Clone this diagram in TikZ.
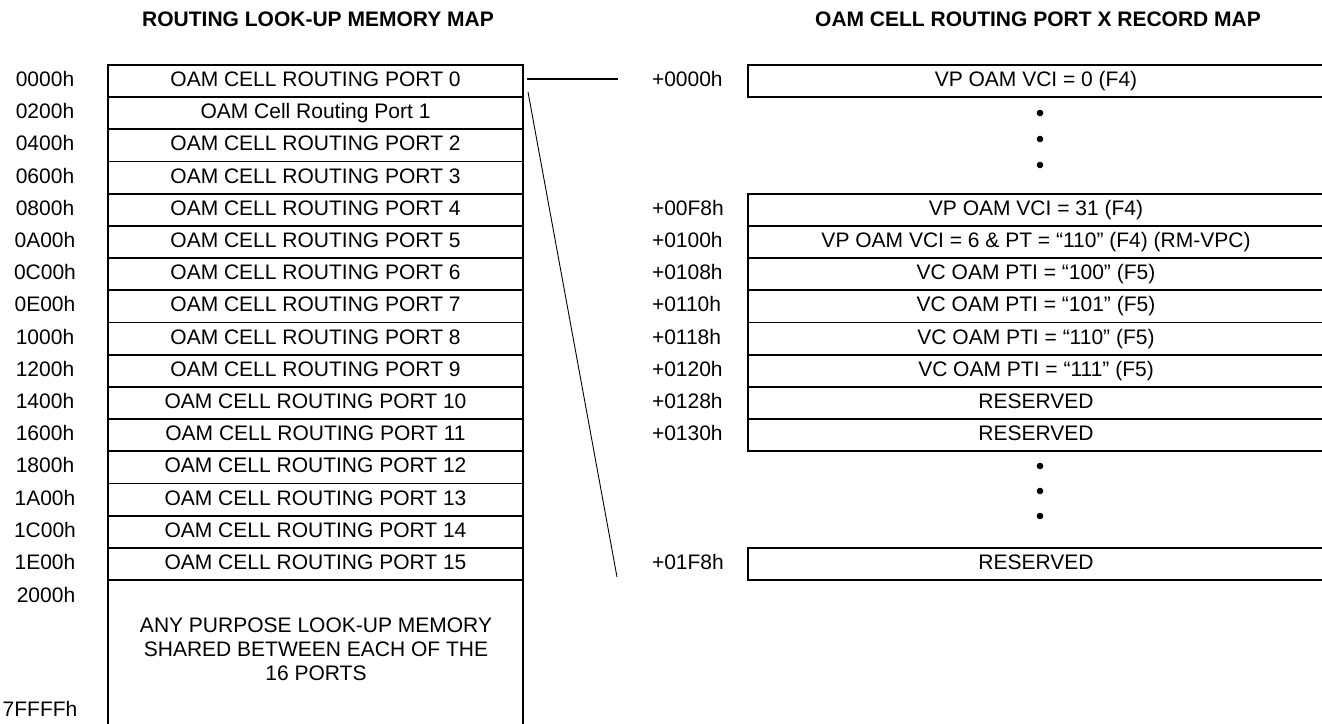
\documentclass[tikz,border=0pt]{standalone}
\usepackage{fontspec}
\setmainfont{Liberation Sans}
\begin{document}
\begin{tikzpicture}[x=1pt,y=-1pt,
  every node/.style={inner sep=0pt,outer sep=0pt,font=\fontsize{21}{24}\selectfont,text height=15pt,text depth=4pt},
  hdr/.style={font=\fontsize{21}{24}\selectfont\bfseries},
  lrow/.style={draw,line width=1.8pt,minimum width=415pt,minimum height=32.1875pt,anchor=center},
  rbox/.style={draw,line width=1.8pt},
  addrL/.style={anchor=center},
  addrR/.style={anchor=west},
  conn/.style={line width=1.6pt},
  diag/.style={line width=0.9pt},
  dot/.style={fill=black,circle,minimum size=6.6pt,inner sep=0pt,text height=,text depth=}
]
\useasboundingbox (0,0) rectangle (1322,723);
\def\rh{32.1875}
% headers
\node[hdr] (h1) at (318,21) {ROUTING LOOK-UP MEMORY MAP};
\node[hdr] (h2) at (1038,21) {OAM CELL ROUTING PORT X RECORD MAP};
% left table
\foreach \i/\a/\t in {0/0000h/OAM CELL ROUTING PORT 0,1/0200h/OAM Cell Routing Port 1,2/0400h/OAM CELL ROUTING PORT 2,3/0600h/OAM CELL ROUTING PORT 3,4/0800h/OAM CELL ROUTING PORT 4,5/0A00h/OAM CELL ROUTING PORT 5,6/0C00h/OAM CELL ROUTING PORT 6,7/0E00h/OAM CELL ROUTING PORT 7,8/1000h/OAM CELL ROUTING PORT 8,9/1200h/OAM CELL ROUTING PORT 9,10/1400h/OAM CELL ROUTING PORT 10,11/1600h/OAM CELL ROUTING PORT 11,12/1800h/OAM CELL ROUTING PORT 12,13/1A00h/OAM CELL ROUTING PORT 13,14/1C00h/OAM CELL ROUTING PORT 14,15/1E00h/OAM CELL ROUTING PORT 15}{
  \node[lrow] (L\i) at (315.5,{65+\rh*(\i+0.5)}) {\t};
  \node[addrL] (A\i) at (45,{65+\rh*(\i+0.5)}) {\a};
}
% shared region
\draw[line width=1.8pt] (108,580) -- (108,740) (523,580) -- (523,740);
\node[align=center,text height=,text depth=] (shared) at (316,649) {ANY PURPOSE LOOK-UP MEMORY\\SHARED BETWEEN EACH OF THE\\16 PORTS};
\node[addrL] (A16) at (46,597) {2000h};
\node[addrL] (A17) at (40,711) {7FFFFh};
% right table
\foreach \r/\a/\t in {0/+0000h/VP OAM VCI = 0 (F4),4/+00F8h/VP OAM VCI = 31 (F4),5/+0100h/VP OAM VCI = 6 \& PT = “110” (F4) (RM-VPC),6/+0108h/VC OAM PTI = “100” (F5),7/+0110h/VC OAM PTI = “101” (F5),8/+0118h/VC OAM PTI = “110” (F5),9/+0120h/VC OAM PTI = “111” (F5),10/+0128h/RESERVED,11/+0130h/RESERVED,15/+01F8h/RESERVED}{
  \draw[rbox] (748,{65+\rh*\r}) rectangle (1345,{65+\rh*(\r+1)});
  \node (R\r) at (1036,{65+\rh*(\r+0.5)}) {\t};
  \node[addrR] (B\r) at (652,{65+\rh*(\r+0.5)}) {\a};
}
% dots
\foreach \k/\y in {1/113,2/139,3/165,4/466,5/491,6/516}{
  \node[dot] (d\k) at (1040,\y) {};
}
% connectors
\coordinate (c1) at (527,79);
\coordinate (c2) at (618,79);
\coordinate (e1) at (528,92);
\coordinate (e2) at (617,577);
\draw[conn] (c1) -- (c2);
\draw[diag] (e1) -- (e2);
\end{tikzpicture}
\end{document}
